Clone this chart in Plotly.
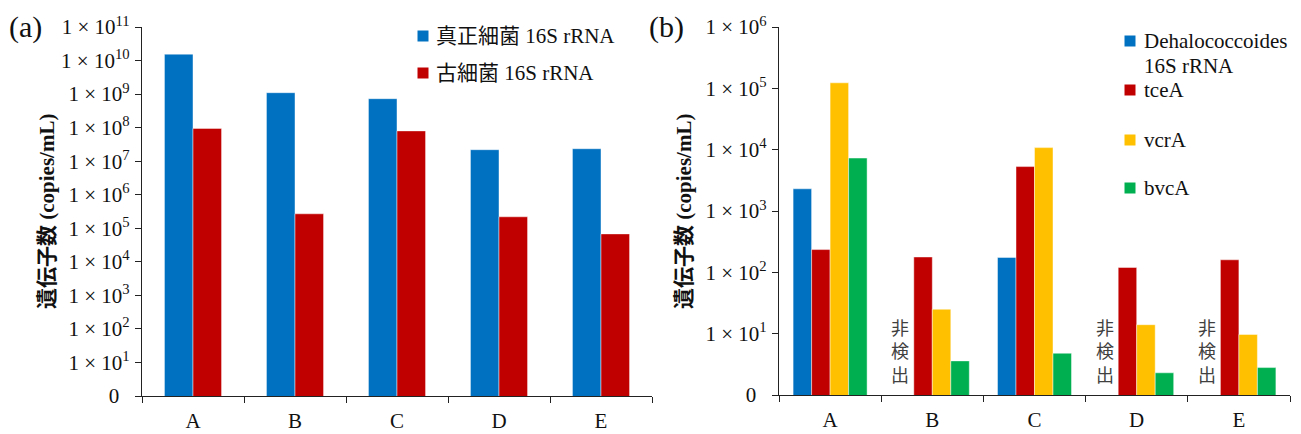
import plotly.graph_objects as go

# ---- data ----
samples = ["A", "B", "C", "D", "E"]

# (a) total bacteria / archaea 16S rRNA copies
bacteria_16s = [1.55e10, 1.1e9, 7.3e8, 2.2e7, 2.35e7]
archaea_16s = [9.5e7, 2.7e5, 8.0e7, 2.2e5, 6.8e4]

# (b) Dehalococcoides and reductive dehalogenase genes (None = not detected)
dhc_16s = [2.3e3, None, 1.75e2, None, None]
tcea = [2.35e2, 1.78e2, 5.3e3, 1.2e2, 1.6e2]
vcra = [1.23e5, 25.0, 1.08e4, 14.0, 9.7]
bvca = [7.3e3, 3.6, 4.8, 2.3, 2.8]

W, H = 1301, 434
BLUE, RED, YELLOW, GREEN = "#0070C0", "#C00000", "#FFC000", "#00B050"
SERIF = "Liberation Serif, Times New Roman, Noto Sans CJK JP, serif"
JP = "Liberation Serif, Noto Sans CJK JP, serif"


def px(x):
    return x / W


def py(y):
    return 1 - y / H


def exp_ticks(lo, hi):
    vals = [10 ** k for k in range(lo, hi + 1)]
    text = ["0\u00a0\u00a0"] + [
        f"1\u00a0\u00d7\u00a010<sup>{k}</sup>" for k in range(lo + 1, hi + 1)
    ]
    return vals, text


fig = go.Figure()

edge = dict(color="rgba(255,255,255,0.45)", width=1)

# panel (a): two bars per sample
wa = 0.28
for vals, col, off in [(bacteria_16s, BLUE, -wa), (archaea_16s, RED, 0.0)]:
    fig.add_trace(go.Bar(x=samples, y=vals, marker=dict(color=col, line=edge),
                         width=wa, offset=off, xaxis="x", yaxis="y",
                         showlegend=False))

# panel (b): four bars per sample
wb = 0.181
for i, (vals, col) in enumerate([(dhc_16s, BLUE), (tcea, RED),
                                 (vcra, YELLOW), (bvca, GREEN)]):
    fig.add_trace(go.Bar(x=samples, y=vals, marker=dict(color=col, line=edge),
                         width=wb, offset=-2 * wb + i * wb, xaxis="x2",
                         yaxis="y2", showlegend=False))

ya_vals, ya_text = exp_ticks(0, 11)
yb_vals, yb_text = exp_ticks(0, 6)

axis_common = dict(showline=True, linecolor="#222", linewidth=1.3,
                   showgrid=False, zeroline=False, ticks="outside",
                   ticklen=6, tickcolor="#222", tickwidth=1.3,
                   automargin=False,
                   tickfont=dict(family=SERIF, size=21, color="#111"))

fig.update_layout(
    width=W, height=H,
    margin=dict(l=0, r=0, t=0, b=0),
    paper_bgcolor="white", plot_bgcolor="white",
    barmode="overlay",
    xaxis=dict(domain=[px(142), px(652)], anchor="y", type="category",
               tickson="boundaries", ticklabelstandoff=6, **axis_common),
    yaxis=dict(domain=[py(396), py(27)], anchor="x", type="log",
               range=[0, 11], tickvals=ya_vals, ticktext=ya_text,
               ticklabelstandoff=1, **axis_common),
    xaxis2=dict(domain=[px(779), px(1290)], anchor="y2", type="category",
                tickson="boundaries", ticklabelstandoff=6, **axis_common),
    yaxis2=dict(domain=[py(395), py(27)], anchor="x2", type="log",
                range=[0, 6], tickvals=yb_vals, ticktext=yb_text,
                ticklabelstandoff=1, **axis_common),
)

annotations = []
shapes = []

# panel labels
for label, x in [("(a)", 7), ("(b)", 647)]:
    annotations.append(dict(text=label, x=px(x), y=py(27), xref="paper",
                            yref="paper", xanchor="left", yanchor="middle",
                            showarrow=False,
                            font=dict(family=SERIF, size=30, color="#111")))

# rotated axis titles
for x in [47, 684]:
    annotations.append(dict(text="遺伝子数 (copies/mL)", x=px(x), y=py(212),
                            xref="paper", yref="paper", textangle=-90,
                            xanchor="center", yanchor="middle",
                            showarrow=False,
                            font=dict(family=JP, size=21, color="#111",
                                      weight="bold")))

# not-detected notes in the Dehalococcoides slot
for s, v in zip(samples, dhc_16s):
    if v is None:
        annotations.append(dict(text="非<br>検<br>出", x=s, y=0, xref="x2",
                                yref="y2", xanchor="center", yanchor="bottom",
                                xshift=-32, yshift=6, showarrow=False,
                                font=dict(family="Noto Sans CJK JP", size=18,
                                          color="#404040")))


def legend_item(cx, cy, color, text, tx):
    s = 11
    shapes.append(dict(type="rect", xref="paper", yref="paper",
                       x0=px(cx - s / 2), x1=px(cx + s / 2),
                       y0=py(cy + s / 2), y1=py(cy - s / 2),
                       fillcolor=color, line=dict(width=0)))
    annotations.append(dict(text=text, x=px(tx), y=py(cy), xref="paper",
                            yref="paper", xanchor="left", yanchor="middle",
                            showarrow=False, align="left",
                            font=dict(family=JP, size=21, color="#111")))


legend_item(423, 36, BLUE, "真正細菌 16S rRNA", 434)
legend_item(423, 73, RED, "古細菌 16S rRNA", 434)

legend_item(1130, 41, BLUE, "Dehalococcoides", 1142)
annotations.append(dict(text="16S rRNA", x=px(1142), y=py(66), xref="paper",
                        yref="paper", xanchor="left", yanchor="middle",
                        showarrow=False,
                        font=dict(family=SERIF, size=21, color="#111")))
legend_item(1130, 90, RED, "tceA", 1142)
legend_item(1130, 140, YELLOW, "vcrA", 1142)
legend_item(1130, 188, GREEN, "bvcA", 1142)

fig.update_layout(annotations=annotations, shapes=shapes)

fig.write_html("out.html")
